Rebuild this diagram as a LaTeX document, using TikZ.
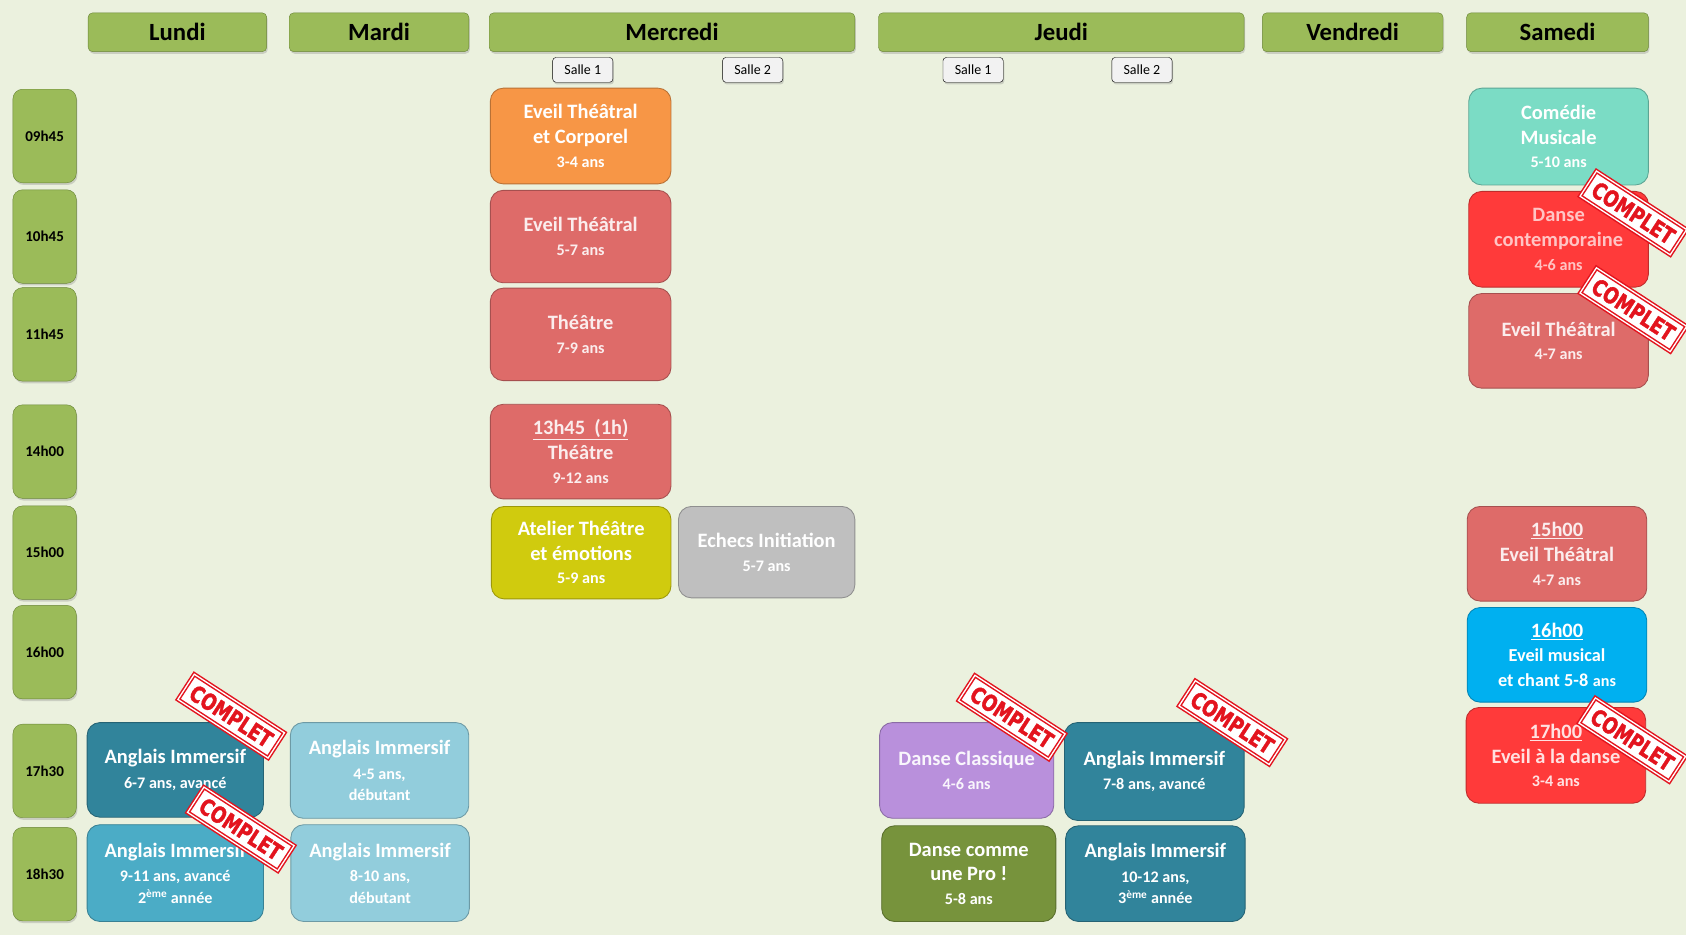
\documentclass[tikz,border=0pt]{standalone}
\usepackage{fontspec}
\setmainfont{Carlito}
\newfontfamily\tampon[FakeStretch=0.78, BoldFeatures={FakeBold=1.6}]{DejaVu Sans}
\usepackage{tikz}
\usetikzlibrary{shadows}
\definecolor{fond}{HTML}{EBF1DE}
\definecolor{vert}{HTML}{9BBB59}
\definecolor{vertbord}{HTML}{6A8537}
\definecolor{cOrange}{HTML}{F79646}
\definecolor{cSaumon}{HTML}{DE6B69}
\definecolor{cRouge}{HTML}{FF3A3A}
\definecolor{cJaune}{HTML}{D0CB0E}
\definecolor{cGris}{HTML}{BFBFBF}
\definecolor{cTeal}{HTML}{31849B}
\definecolor{cBleu}{HTML}{4BACC6}
\definecolor{cCiel}{HTML}{92CDDC}
\definecolor{cViolet}{HTML}{B990DC}
\definecolor{cOlive}{HTML}{77933C}
\definecolor{cTurq}{HTML}{7BDCC5}
\definecolor{cCyan}{HTML}{00B0F0}
\definecolor{cStamp}{HTML}{E3141E}
\tikzstyle{ombre}=[drop shadow={opacity=.3, shadow xshift=1pt, shadow yshift=-2pt}]
\tikzstyle{jour}=[draw=vertbord, fill=vert, rounded corners=4pt, minimum height=36, ombre, font=\bfseries\fontsize{23}{24}\selectfont]
\tikzstyle{heure}=[jour, minimum width=59, minimum height=87, rounded corners=9pt, font=\bfseries\fontsize{14}{14}\selectfont]
\tikzstyle{salle}=[draw=black, fill=black!5, rounded corners=3pt, minimum width=56, minimum height=23, inner sep=1pt, ombre, font=\fontsize{13}{13}\selectfont]
\tikzstyle{cours}=[rounded corners=12pt, minimum width=166, minimum height=88, align=center, text=white, line width=.8pt, font=\bfseries\fontsize{19}{23}\selectfont]
\tikzstyle{complet}=[draw=cStamp, double=white, double distance=1.2pt, line width=1.4pt, fill=white, text=cStamp, rotate=-33, minimum width=100, minimum height=28, inner sep=0pt, font=\tampon\bfseries\fontsize{21}{21}\selectfont]
\tikzset{bloc/.style={cours, fill=#1, draw=#1!75!black}}
\newcommand{\ans}[1]{{\fontsize{15}{19}\selectfont #1}}

\begin{document}
\begin{tikzpicture}[x=1pt, y=-1pt]
\fill[fond] (0,0) rectangle (1568,870);
\useasboundingbox (0,0) rectangle (1568,870);
% jours et heures
\foreach \x/\w/\j in {165/166/Lundi, 352.5/167/Mardi, 625/340/Mercredi, 987/340/Jeudi, 1258/168/Vendredi, 1448.5/169/Samedi}
  \node[jour, minimum width=\w] (\j) at (\x,30) {\j};
\foreach \y/\h in {126.5/09h45, 220/10h45, 311/11h45, 420/14h00, 514/15h00, 606.5/16h00, 717/17h30, 813/18h30}
  \node[heure] (h\h) at (41.5,\y) {\h};
\foreach \x/\s [count=\i] in {542/1, 700/2, 905/1, 1062/2}
  \node[salle] (s\i) at (\x,65) {Salle \s};

% Lundi, Mardi
\node[bloc=cTeal, minimum width=164] (lun1) at (163,716) {Anglais Immersif\\ \ans{6-7 ans, avancé}};
\node[bloc=cBleu, minimum width=164, minimum height=90] (lun2) at (163,812) {Anglais Immersif\\ \ans{9-11 ans, avancé}\\[-3pt] \ans{2\textsuperscript{ème} année}};
\node[bloc=cCiel, minimum height=89] (mar1) at (353,716.5) {Anglais Immersif\\ \ans{4-5 ans,}\\[-3pt] \ans{débutant}};
\node[bloc=cCiel, minimum height=90] (mar2) at (353.5,812) {Anglais Immersif\\ \ans{8-10 ans,}\\[-3pt] \ans{débutant}};

% Mercredi
\node[bloc=cOrange, minimum width=168, minimum height=89] (mer1) at (540,126.5) {Eveil Théâtral\\ et Corporel\\[-1pt] \ans{3-4 ans}};
\node[bloc=cSaumon, minimum width=168, minimum height=86, text=white!88!cSaumon] (mer2) at (540,220) {Eveil Théâtral\\[-1pt] \ans{5-7 ans}};
\node[bloc=cSaumon, minimum width=168, minimum height=86, text=white!88!cSaumon] (mer3) at (540,311) {Théâtre\\[-1pt] \ans{7-9 ans}};
\node[bloc=cSaumon, minimum width=168, text=white!88!cSaumon] (mer4) at (540,420) {\underline{13h45\ \ (1h)}\\ Théâtre\\[-1pt] \ans{9-12 ans}};
\node[bloc=cJaune, minimum width=167, minimum height=86] (mer5) at (540.5,514) {Atelier Théâtre\\ et émotions\\[-1pt] \ans{5-9 ans}};
\node[bloc=cGris, minimum width=164, minimum height=85] (mer6) at (713,513.5) {Echecs Initiation\\[-1pt] \ans{5-7 ans}};

% Jeudi
\node[bloc=cViolet, minimum width=162, minimum height=89, text=white!92!cViolet] (jeu1) at (899,716.5) {Danse Classique\\[-1pt] \ans{4-6 ans}};
\node[bloc=cOlive, minimum width=162, minimum height=89] (jeu2) at (901,812.5) {Danse comme\\ une Pro !\\[-1pt] \ans{5-8 ans}};
\node[bloc=cTeal, minimum width=167, minimum height=91] (jeu3) at (1073.5,717.5) {Anglais Immersif\\[-1pt] \ans{7-8 ans, avancé}};
\node[bloc=cTeal, minimum width=167, minimum height=89] (jeu4) at (1074.5,812.5) {Anglais Immersif\\ \ans{10-12 ans,}\\[-3pt] \ans{3\textsuperscript{ème} année}};

% Samedi
\node[bloc=cTurq, minimum width=167, minimum height=90] (sam1) at (1449.5,127) {Comédie\\ Musicale\\[-1pt] \ans{5-10 ans}};
\node[bloc=cRouge, minimum width=167, minimum height=89, text=white!70!cRouge] (sam2) at (1449.5,222.5) {Danse\\ contemporaine\\[-1pt] \ans{4-6 ans}};
\node[bloc=cSaumon, minimum width=167, text=white!88!cSaumon] (sam3) at (1449.5,317) {Eveil Théâtral\\[-1pt] \ans{4-7 ans}};
\node[bloc=cSaumon, minimum width=167, text=white!88!cSaumon] (sam4) at (1448,515) {\underline{15h00}\\ Eveil Théâtral\\[-1pt] \ans{4-7 ans}};
\node[bloc=cCyan, minimum width=167] (sam5) at (1448,609) {\underline{16h00}\\ {\fontsize{17}{19}\selectfont Eveil musical}\\ {\fontsize{17}{19}\selectfont et chant 5-8} \ans{ans}};
\node[bloc=cRouge, minimum width=167, minimum height=89, text=white!85!cRouge] (sam6) at (1447,702.5) {\underline{17h00}\\ Eveil à la danse\\[-1pt] \ans{3-4 ans}};

% complet
\foreach \x/\y [count=\i] in {215/666, 224/771, 941/667, 1146/672, 1519/198, 1519/288, 1518/688}
  \node[complet] (c\i) at (\x,\y) {COMPLET};
\end{tikzpicture}
\end{document}
